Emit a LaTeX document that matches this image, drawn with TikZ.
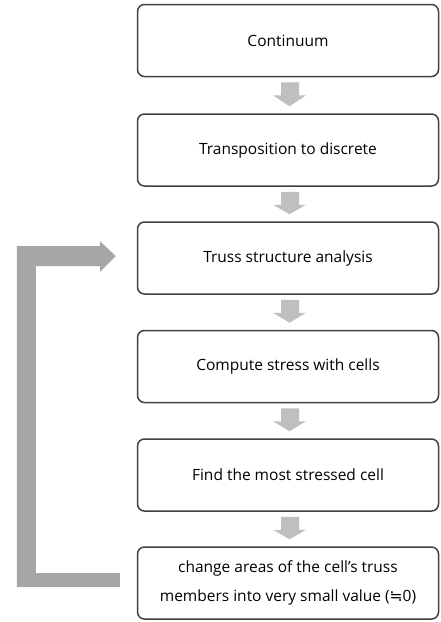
\documentclass[tikz,border=0pt]{standalone}
\usepackage{fontspec}
\setmainfont{Open Sans}
\newfontfamily\symfont{DejaVu Sans}
\usetikzlibrary{calc}
\definecolor{boxline}{HTML}{404040}
\definecolor{flowgray}{HTML}{BFBFBF}
\definecolor{loopgray}{HTML}{A6A6A6}
\tikzset{
  stepbox/.style={draw=boxline, line width=1.5pt, rounded corners=7pt, fill=white,
    minimum width=301pt, minimum height=72pt, inner sep=0pt, align=center,
    font=\fontsize{15.5}{29}\selectfont, anchor=center},
  downarrow/.style={fill=flowgray, draw=none},
  looparrow/.style={fill=loopgray, draw=none}
}
\begin{document}
\begin{tikzpicture}[x=1pt,y=-1pt]
\useasboundingbox (0,0) rectangle (440,622);
\node[stepbox] (b1) at (288,40.5) {Continuum};
\node[stepbox] (b2) at (288,150) {Transposition to discrete};
\node[stepbox] (b3) at (288,258) {Truss structure analysis};
\node[stepbox] (b4) at (288,366.5) {Compute stress with cells};
\node[stepbox] (b5) at (288,475) {Find the most stressed cell};
\node[stepbox] (b6) at (288,583) {change areas of the cell's truss\\members into very small value ({\symfont ≒}0)};
\foreach \a/\b in {b1/b2,b2/b3,b3/b4,b4/b5,b5/b6}{
  \fill[downarrow] ($(\a.south)+(-7,5)$) -- ($(\a.south)+(11,5)$) -- ($(\a.south)+(11,18)$)
    -- ($(\a.south)+(18,18)$) -- ($(\b.north)+(1.5,-7)$) -- ($(\a.south)+(-15,18)$)
    -- ($(\a.south)+(-7,18)$) -- cycle;
}
\fill[looparrow] ($(b6.west)+(-17,-10)$) -- ($(b6.west)+(-101,-10)$) -- ($(b3.west)+(-101,8)$)
  -- ($(b3.west)+(-37,8)$) -- ($(b3.west)+(-37,14)$) -- ($(b3.west)+(-21,-2)$)
  -- ($(b3.west)+(-37,-17)$) -- ($(b3.west)+(-37,-12)$) -- ($(b3.west)+(-120,-12)$)
  -- ($(b6.west)+(-120,4)$) -- ($(b6.west)+(-17,4)$) -- cycle;
\end{tikzpicture}
\end{document}
